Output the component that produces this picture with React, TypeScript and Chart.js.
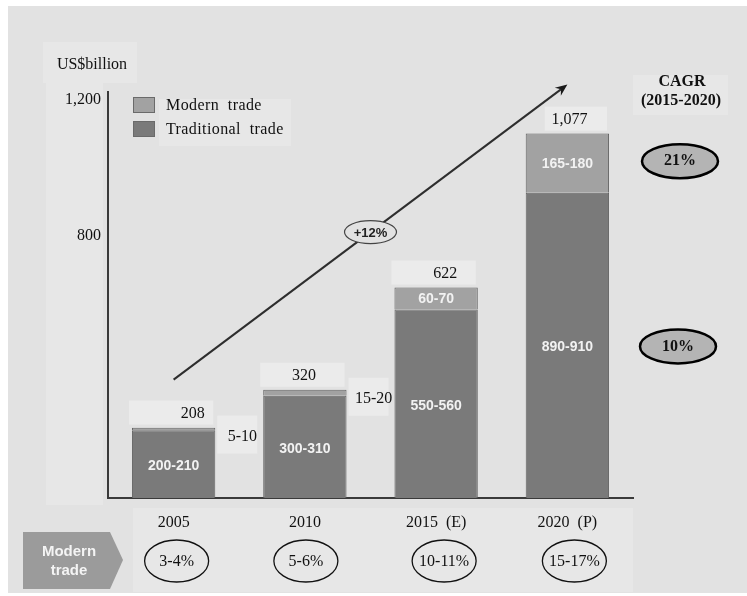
import React, { useEffect, useRef } from "react";
import { Chart, registerables } from "chart.js";

Chart.register(...registerables);

const categories = ["2005", "2010", "2015  (E)", "2020  (P)"];
const traditional = [200, 302, 557, 902];
const modern = [8, 18, 65, 175];
const totalLabels = ["208", "320", "622", "1,077"];
const traditionalLabels = ["200-210", "300-310", "550-560", "890-910"];
const modernLabels = ["5-10", "15-20", "60-70", "165-180"];
const modernShare = ["3-4%", "5-6%", "10-11%", "15-17%"];
const cagrModern = "21%";
const cagrTraditional = "10%";
const growthLabel = "+12%";
const growthStart = 350;
const growthEnd = 1222;
const yTicks = [800, 1200];

const SERIF = "'Liberation Serif', 'Times New Roman', serif";
const SANS = "'Liberation Sans', Arial, sans-serif";
const BG = "#e2e2e2";
const LIGHT = "#ebebeb";
const FAINT = "#e7e7e7";
const TRAD = "#7a7a7a";
const MOD = "#a2a2a2";

function ellipse(ctx: CanvasRenderingContext2D, cx: number, cy: number, rx: number, ry: number, fill: string | null, stroke: string, lw: number) {
  ctx.beginPath();
  ctx.ellipse(cx, cy, rx, ry, 0, 0, Math.PI * 2);
  if (fill) {
    ctx.fillStyle = fill;
    ctx.fill();
  }
  ctx.lineWidth = lw;
  ctx.strokeStyle = stroke;
  ctx.stroke();
}

const deco = {
  id: "deco",
  beforeDraw(chart: any) {
    const ctx: CanvasRenderingContext2D = chart.ctx;
    const W = chart.width;
    const H = chart.height;
    const area = chart.chartArea;
    const x = chart.scales.x;
    ctx.save();
    ctx.fillStyle = "#ffffff";
    ctx.fillRect(0, 0, W, H);
    ctx.fillStyle = BG;
    ctx.fillRect(8, 6, W - 8, H - 9);
    ctx.fillStyle = FAINT;
    // unit label box
    ctx.fillRect(43, 42, 94, 41);
    // y labels box
    ctx.fillRect(46, 83, area.left - 46 - 5, area.bottom + 7 - 83);
    // legend text box
    ctx.fillRect(159, 99, 132, 47);
    // CAGR box
    ctx.fillRect(633, 75, 95, 40);
    // category label box
    const bw = x.getPixelForValue(1) - x.getPixelForValue(0);
    const bl = x.getPixelForValue(0) - bw * 0.31;
    ctx.fillRect(bl, area.bottom + 10, area.right - bl, H - 4 - (area.bottom + 10));

    // total label boxes
    ctx.fillStyle = LIGHT;
    const meta = chart.getDatasetMeta(1);
    meta.data.forEach((bar: any, i: number) => {
      const half = bar.width / 2;
      const left = i === 3 ? bar.x - half + 19 : bar.x - half - 3;
      ctx.fillRect(left, bar.y - 27, bar.x + half - 2 - left, 24);
    });
    // outside modern label boxes
    [0, 1].forEach((i) => {
      const bar = meta.data[i];
      const cx = bar.x + bar.width / 2 + 27;
      const cy = bar.y + 9;
      ctx.fillRect(cx - 25, cy - 21, 40, 38);
    });

    // unit label
    ctx.fillStyle = "#111";
    ctx.font = `16px ${SERIF}`;
    ctx.textAlign = "center";
    ctx.textBaseline = "middle";
    ctx.fillText("US$billion", 92, 65);

    // legend
    const items = [
      { ds: chart.data.datasets[1], y: 105 },
      { ds: chart.data.datasets[0], y: 129 },
    ];
    items.forEach((it) => {
      ctx.fillStyle = it.ds.backgroundColor;
      ctx.fillRect(133, it.y - 8, 22, 16);
      ctx.strokeStyle = "#6a6a6a";
      ctx.lineWidth = 1;
      ctx.strokeRect(133.5, it.y - 7.5, 21, 15);
      ctx.fillStyle = "#111";
      ctx.font = `16px ${SERIF}`;
      ctx.textAlign = "left";
      ctx.textBaseline = "middle";
      (ctx as any).letterSpacing = "0.4px";
      ctx.fillText(String(it.ds.label).replace(" ", "  "), 166, it.y + 1);
      (ctx as any).letterSpacing = "0px";
    });
    ctx.restore();
  },
  afterDraw(chart: any) {
    const ctx: CanvasRenderingContext2D = chart.ctx;
    const x = chart.scales.x;
    const y = chart.scales.y;
    const tradMeta = chart.getDatasetMeta(0);
    const modMeta = chart.getDatasetMeta(1);
    ctx.save();

    // labels inside bars
    ctx.textAlign = "center";
    ctx.textBaseline = "middle";
    tradMeta.data.forEach((bar: any, i: number) => {
      ctx.fillStyle = "#f2f2f2";
      ctx.font = `bold 14px ${SANS}`;
      ctx.fillText(traditionalLabels[i], bar.x, (bar.y + bar.base) / 2 + 2);
    });
    modMeta.data.forEach((bar: any, i: number) => {
      const segH = bar.base - bar.y;
      if (segH > 16) {
        ctx.fillStyle = "#f2f2f2";
        ctx.font = `bold 14px ${SANS}`;
        ctx.fillText(modernLabels[i], bar.x, (bar.y + bar.base) / 2 + 1);
      } else {
        ctx.fillStyle = "#111";
        ctx.font = `16px ${SERIF}`;
        ctx.fillText(modernLabels[i], bar.x + bar.width / 2 + 27, bar.y + 9);
      }
      // totals
      ctx.fillStyle = "#111";
      ctx.font = `16px ${SERIF}`;
      const off = [19, -1, 9, 2][i];
      ctx.fillText(totalLabels[i], bar.x + off, bar.y - 14);
    });

    // growth arrow
    const x0 = x.getPixelForValue(0);
    const y0 = y.getPixelForValue(growthStart);
    const x1 = x.getPixelForValue(3);
    const y1 = y.getPixelForValue(growthEnd);
    ctx.strokeStyle = "#2e2e2e";
    ctx.lineWidth = 2;
    ctx.beginPath();
    ctx.moveTo(x0, y0);
    const ang = Math.atan2(y1 - y0, x1 - x0);
    ctx.lineTo(x1 - 6 * Math.cos(ang), y1 - 6 * Math.sin(ang));
    ctx.stroke();
    ctx.fillStyle = "#1a1a1a";
    ctx.beginPath();
    ctx.moveTo(x1, y1);
    ctx.lineTo(x1 - 13 * Math.cos(ang - 0.4), y1 - 13 * Math.sin(ang - 0.4));
    ctx.lineTo(x1 - 8 * Math.cos(ang), y1 - 8 * Math.sin(ang));
    ctx.lineTo(x1 - 13 * Math.cos(ang + 0.4), y1 - 13 * Math.sin(ang + 0.4));
    ctx.closePath();
    ctx.fill();
    const mx = (x0 + x1) / 2;
    const my = (y0 + y1) / 2;
    ellipse(ctx, mx, my, 26, 11.5, BG, "#444", 1.2);
    ctx.fillStyle = "#222";
    ctx.font = `bold 13px ${SANS}`;
    ctx.textAlign = "center";
    ctx.textBaseline = "middle";
    ctx.fillText(growthLabel, mx, my + 1);

    // CAGR
    ctx.fillStyle = "#111";
    ctx.font = `bold 16px ${SERIF}`;
    ctx.fillText("CAGR", 682, 82);
    ctx.fillText("(2015-2020)", 681, 101);
    const lastMod = modMeta.data[3];
    const lastTrad = tradMeta.data[3];
    const cy1 = (lastMod.y + lastMod.base) / 2 - 2;
    const cy2 = (lastTrad.y + lastTrad.base) / 2 + 1;
    ellipse(ctx, 680, cy1, 38, 17, "#b4b4b4", "#000", 2.5);
    ellipse(ctx, 678, cy2, 38, 17, "#b4b4b4", "#000", 2.5);
    ctx.fillStyle = "#111";
    ctx.font = `bold 16px ${SERIF}`;
    ctx.fillText(cagrModern, 680, cy1);
    ctx.fillText(cagrTraditional, 678, cy2);

    // modern trade share row
    const rowY = 561;
    ctx.fillStyle = "#9b9b9b";
    ctx.beginPath();
    ctx.moveTo(23, 532);
    ctx.lineTo(110, 532);
    ctx.lineTo(123, 560);
    ctx.lineTo(110, 589);
    ctx.lineTo(23, 589);
    ctx.closePath();
    ctx.fill();
    ctx.fillStyle = "#f4f4f4";
    ctx.font = `bold 15px ${SANS}`;
    ctx.fillText("Modern", 69, 552);
    ctx.fillText("trade", 69, 571);
    const shareOff = [3, 1, 8, 7];
    modernShare.forEach((s, i) => {
      const cx = x.getPixelForValue(i) + shareOff[i];
      ellipse(ctx, cx, rowY, 32, 21, null, "#111", 1.3);
      ctx.fillStyle = "#111";
      ctx.font = `16px ${SERIF}`;
      ctx.fillText(s, cx, rowY + 1);
    });
    ctx.restore();
  },
};

export default function App() {
  const ref = useRef<HTMLCanvasElement | null>(null);
  useEffect(() => {
    if (!ref.current) return;
    Chart.defaults.font.family = SERIF;
    const chart = new Chart(ref.current, {
      type: "bar",
      data: {
        labels: categories,
        datasets: [
          {
            label: "Traditional trade",
            data: traditional,
            backgroundColor: TRAD,
            borderColor: "#646464",
            borderWidth: 1,
            barPercentage: 0.635,
            categoryPercentage: 1,
          },
          {
            label: "Modern trade",
            data: modern,
            backgroundColor: MOD,
            borderColor: "#646464",
            borderWidth: 1,
            barPercentage: 0.635,
            categoryPercentage: 1,
          },
        ],
      },
      options: {
        responsive: false,
        animation: false,
        devicePixelRatio: 1,
        layout: { padding: { top: 92, right: 114, bottom: 0, left: 0 } },
        plugins: {
          legend: { display: false },
          tooltip: { enabled: false },
          title: { display: false },
        },
        scales: {
          x: {
            stacked: true,
            grid: { display: false, drawTicks: false },
            border: { display: true, color: "#3a3a3a", width: 2 },
            ticks: { color: "#111", font: { size: 16, family: SERIF }, padding: 15, maxRotation: 0 },
            afterFit: (s: any) => {
              s.height = 98;
            },
          },
          y: {
            stacked: true,
            min: 0,
            max: 1200,
            grid: { display: false, drawTicks: false },
            border: { display: true, color: "#3a3a3a", width: 2 },
            afterBuildTicks: (s: any) => {
              s.ticks = yTicks.map((v) => ({ value: v }));
            },
            ticks: {
              color: "#111",
              font: { size: 16, family: SERIF },
              padding: 7,
              labelOffset: 8,
              callback: (v: any) => Number(v).toLocaleString("en-US"),
            },
            afterFit: (s: any) => {
              s.width = 108;
            },
          },
        },
      },
      plugins: [deco],
    });
    return () => chart.destroy();
  }, []);
  return (
    <div style={{ position: "fixed", left: 0, top: 0, width: 747, height: 596 }}>
      <canvas ref={ref} width={747} height={596} style={{ display: "block", width: 747, height: 596 }} />
    </div>
  );
}
